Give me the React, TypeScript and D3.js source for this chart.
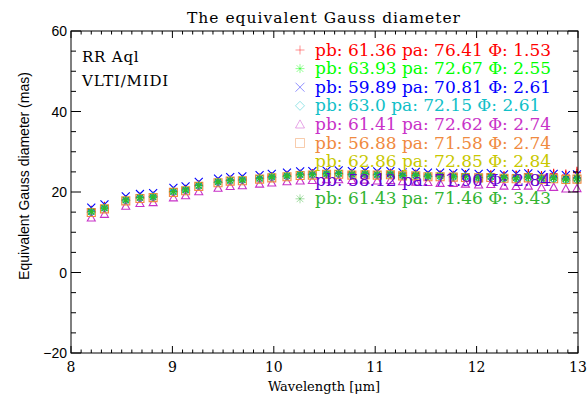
import React from "react";
import * as d3 from "d3";

const W = 588;
const H = 395;

const titleText = "The equivalent Gauss diameter";
const xTitle = "Wavelength [\u03BCm]";
const yTitle = "Equivalent Gauss diameter (mas)";
const annot = ["RR Aql", "VLTI/MIDI"];

const xMajor = [8, 9, 10, 11, 12, 13];
const yMajor = [-20, 0, 20, 40, 60];

const wavelengths = [8.20, 8.33, 8.54, 8.68, 8.81, 9.01, 9.13, 9.26, 9.45, 9.57, 9.69, 9.86, 9.98, 10.13, 10.26, 10.38, 10.52, 10.64, 10.77, 10.90, 11.02, 11.15, 11.27, 11.40, 11.52, 11.64, 11.77, 11.89, 12.02, 12.14, 12.27, 12.39, 12.51, 12.64, 12.76, 12.88, 12.99];

const sRed = [15.6, 16.6, 18.2, 18.9, 19.1, 20.3, 20.8, 21.9, 22.7, 23.1, 23.3, 23.6, 24.0, 24.3, 24.6, 24.7, 24.9, 24.8, 24.8, 24.9, 24.6, 24.8, 24.5, 24.6, 24.3, 24.4, 24.3, 24.5, 24.0, 24.4, 24.1, 24.3, 24.6, 24.0, 24.5, 24.2, 24.8];
const sGreen = [15.1, 16.0, 18.0, 18.6, 18.8, 20.1, 20.5, 21.6, 22.5, 22.9, 23.0, 23.4, 23.7, 24.0, 24.3, 24.4, 24.6, 24.6, 24.5, 24.6, 24.4, 24.5, 24.3, 24.2, 24.1, 24.0, 24.0, 23.9, 23.8, 23.9, 23.7, 23.6, 23.8, 23.5, 23.6, 23.4, 23.5];
const sBlue = [16.1, 16.9, 18.9, 19.5, 19.7, 21.0, 21.4, 22.5, 23.3, 23.7, 23.9, 24.2, 24.5, 24.8, 25.1, 25.2, 25.3, 25.4, 25.2, 25.3, 25.1, 25.2, 24.9, 25.0, 24.8, 24.8, 24.7, 24.8, 24.5, 24.7, 24.4, 24.5, 24.6, 24.3, 24.5, 24.2, 24.4];
const sCyan = [15.0, 16.0, 17.9, 18.5, 18.8, 20.0, 20.4, 21.5, 22.4, 22.8, 23.0, 23.3, 23.6, 23.9, 24.2, 24.3, 24.5, 24.5, 24.3, 24.4, 24.2, 24.3, 24.1, 24.0, 23.9, 23.8, 23.7, 23.7, 23.5, 23.6, 23.3, 23.3, 23.4, 23.1, 23.2, 22.9, 23.0];
const sMagenta = [13.6, 14.5, 16.5, 17.2, 17.4, 18.6, 19.1, 20.1, 21.0, 21.4, 21.6, 22.0, 22.3, 22.6, 22.8, 22.9, 23.1, 23.1, 22.9, 23.0, 22.8, 22.9, 22.6, 22.5, 22.4, 22.2, 22.2, 22.0, 21.8, 21.9, 21.5, 21.4, 21.5, 21.1, 21.2, 20.8, 20.9];
const sOrange = [14.9, 15.8, 17.8, 18.4, 18.6, 19.9, 20.3, 21.4, 22.3, 22.7, 22.8, 23.2, 23.5, 23.8, 24.1, 24.2, 24.4, 24.4, 24.2, 24.3, 24.2, 24.3, 24.0, 24.0, 23.8, 23.8, 23.7, 23.6, 23.5, 23.6, 23.4, 23.3, 23.5, 23.2, 23.3, 23.1, 23.2];
const sYellow = [15.2, 16.1, 18.0, 18.7, 18.9, 20.2, 20.6, 21.7, 22.5, 22.9, 23.1, 23.4, 23.8, 24.1, 24.3, 24.5, 24.6, 24.7, 24.5, 24.6, 24.4, 24.5, 24.2, 24.3, 24.0, 24.1, 23.9, 23.6, 23.7, 23.9, 23.5, 23.4, 23.8, 23.3, 23.6, 23.2, 23.4];
const sPurple = [15.0, 15.9, 17.9, 18.5, 18.7, 20.0, 20.4, 21.5, 22.4, 22.8, 22.9, 23.3, 23.6, 23.9, 24.2, 24.3, 24.5, 24.5, 24.3, 24.4, 24.2, 24.3, 24.1, 24.1, 23.9, 23.9, 23.8, 23.7, 23.5, 23.7, 23.4, 23.4, 23.5, 23.2, 23.4, 23.1, 23.2];
const sDkGreen = [15.1, 16.0, 18.0, 18.6, 18.7, 20.1, 20.5, 21.6, 22.5, 22.9, 23.0, 23.4, 23.8, 24.0, 24.3, 24.4, 24.5, 24.6, 24.4, 24.5, 24.3, 24.4, 24.1, 24.2, 23.9, 24.0, 23.8, 23.9, 23.6, 23.8, 23.5, 23.5, 23.7, 23.3, 23.5, 23.2, 23.4];

const errRed = [0.2, 0.2, 0.2, 0.2, 0.2, 0.2, 0.2, 0.2, 0.2, 0.3, 0.3, 0.3, 0.3, 0.3, 0.3, 0.3, 0.4, 0.4, 0.4, 0.4, 0.5, 0.5, 0.5, 0.6, 0.6, 0.7, 0.7, 0.8, 0.8, 0.9, 1.0, 1.0, 1.1, 1.2, 1.3, 1.4, 1.5];
const errYellow = [0.2, 0.2, 0.2, 0.2, 0.2, 0.2, 0.2, 0.2, 0.3, 0.3, 0.3, 0.3, 0.3, 0.3, 0.4, 0.4, 0.4, 0.4, 0.5, 0.5, 0.5, 0.6, 0.6, 0.7, 0.7, 0.8, 0.9, 1.0, 1.0, 1.1, 1.1, 1.2, 1.2, 1.3, 1.3, 1.4, 1.4];
const errDkGreen = [0.2, 0.2, 0.2, 0.2, 0.2, 0.2, 0.2, 0.2, 0.2, 0.2, 0.3, 0.3, 0.3, 0.3, 0.3, 0.3, 0.3, 0.4, 0.4, 0.4, 0.4, 0.5, 0.5, 0.5, 0.6, 0.6, 0.7, 0.7, 0.8, 0.8, 0.9, 0.9, 1.0, 1.0, 1.1, 1.1, 1.2];

const legendLabels = [
  "pb: 61.36 pa: 76.41 \u03A6: 1.53",
  "pb: 63.93 pa: 72.67 \u03A6: 2.55",
  "pb: 59.89 pa: 70.81 \u03A6: 2.61",
  "pb: 63.0 pa: 72.15 \u03A6: 2.61",
  "pb: 61.41 pa: 72.62 \u03A6: 2.74",
  "pb: 56.88 pa: 71.58 \u03A6: 2.74",
  "pb: 62.86 pa: 72.85 \u03A6: 2.84",
  "pb: 58.12 pa: 71.90 \u03A6: 2.84",
  "pb: 61.43 pa: 71.46 \u03A6: 3.43",
];
const colors = ["#ff0000", "#00ff00", "#0000ff", "#10c0c8", "#c832c8", "#f08a40", "#c8c800", "#6400d2", "#32b432"];
const symbols = ["plus", "star", "x", "diamond", "triangle", "square", "none", "none", "star"];
const seriesValues = [sRed, sGreen, sBlue, sCyan, sMagenta, sOrange, sYellow, sPurple, sDkGreen];
const seriesErrors: (number[] | null)[] = [errRed, null, null, null, null, null, errYellow, null, errDkGreen];

function symbolPath(kind: string, cx: number, cy: number, r: number): string {
  const p = d3.path();
  if (kind === "plus" || kind === "star") {
    p.moveTo(cx - r, cy); p.lineTo(cx + r, cy);
    p.moveTo(cx, cy - r); p.lineTo(cx, cy + r);
  }
  if (kind === "x" || kind === "star") {
    const q = kind === "star" ? r * 0.75 : r;
    p.moveTo(cx - q, cy - q); p.lineTo(cx + q, cy + q);
    p.moveTo(cx - q, cy + q); p.lineTo(cx + q, cy - q);
  }
  if (kind === "diamond") {
    p.moveTo(cx, cy - r); p.lineTo(cx + r, cy); p.lineTo(cx, cy + r); p.lineTo(cx - r, cy); p.closePath();
  }
  if (kind === "triangle") {
    p.moveTo(cx - r, cy + r * 0.8); p.lineTo(cx + r, cy + r * 0.8); p.lineTo(cx, cy - r); p.closePath();
  }
  if (kind === "square") {
    p.rect(cx - r, cy - r, 2 * r, 2 * r);
  }
  if (kind === "none") {
    p.moveTo(cx - 0.5, cy); p.lineTo(cx + 0.5, cy);
  }
  return p.toString();
}

export default function App() {
  const x = d3.scaleLinear().domain([8, 13]).range([71, 578]);
  const y = d3.scaleLinear().domain([-20, 60]).range([353, 31]);
  const [x0, x1] = x.range();
  const [y0, y1] = y.range();

  const xMinor = d3.range(80, 131).map((v) => v / 10);
  const yMinor = d3.range(-20, 61, 5);

  const serif = "'DejaVu Serif', serif";
  const sans = "'Liberation Sans', Arial, sans-serif";

  return (
    <svg width={W} height={H} style={{ position: "absolute", left: 0, top: 0, background: "#fff" }}>
      {/* data */}
      <g>
        {seriesValues.map((vals, si) => (
          <g key={si} stroke={colors[si]} fill="none" strokeWidth={1.1}>
            {seriesErrors[si] &&
              vals.map((v, i) => (
                <line key={"e" + i} x1={x(wavelengths[i])} x2={x(wavelengths[i])} y1={y(v - (seriesErrors[si] as number[])[i])} y2={y(v + (seriesErrors[si] as number[])[i])} />
              ))}
            {vals.map((v, i) => (
              <path key={i} d={symbolPath(symbols[si], x(wavelengths[i]), y(v), 4)} />
            ))}
          </g>
        ))}
      </g>

      {/* frame */}
      <rect x={x0} y={y1} width={x1 - x0} height={y0 - y1} fill="none" stroke="#000" strokeWidth={1} />
      {xMinor.map((v, i) => {
        const major = Math.abs(v - Math.round(v)) < 1e-6;
        const len = major ? 7 : 3.5;
        return (
          <g key={"xt" + i} stroke="#000" strokeWidth={1}>
            <line x1={x(v)} x2={x(v)} y1={y0} y2={y0 - len} />
            <line x1={x(v)} x2={x(v)} y1={y1} y2={y1 + len} />
          </g>
        );
      })}
      {yMinor.map((v, i) => {
        const major = v % 20 === 0;
        const len = major ? 10 : 5;
        return (
          <g key={"yt" + i} stroke="#000" strokeWidth={1}>
            <line x1={x0} x2={x0 + len} y1={y(v)} y2={y(v)} />
            <line x1={x1} x2={x1 - len} y1={y(v)} y2={y(v)} />
          </g>
        );
      })}

      {/* tick labels */}
      {xMajor.map((v) => (
        <text key={"xl" + v} x={x(v)} y={372} textAnchor="middle" fontFamily={serif} fontSize={14} fill="#000">
          {v}
        </text>
      ))}
      {yMajor.map((v) => (
        <text key={"yl" + v} x={67} y={y(v) + 5} textAnchor="end" fontFamily={sans} fontSize={14} fill="#000">
          {v < 0 ? "\u2212" + Math.abs(v) : v}
        </text>
      ))}

      {/* titles */}
      <text x={324} y={23} textAnchor="middle" fontFamily={serif} fontSize={15.5} letterSpacing={1} fill="#000">
        {titleText}
      </text>
      <text x={324} y={391} textAnchor="middle" fontFamily={serif} fontSize={13} fill="#000">
        {xTitle}
      </text>
      <text transform={`translate(29,176) rotate(-90)`} textAnchor="middle" fontFamily={sans} fontSize={14} fill="#000">
        {yTitle}
      </text>

      {annot.map((t, i) => (
        <text key={t} x={82} y={62 + i * 24} fontFamily={serif} fontSize={15} letterSpacing={0.8} fill="#000">
          {t}
        </text>
      ))}

      {/* legend */}
      {legendLabels.map((t, i) => {
        const cy = 50 + i * 18.6;
        return (
          <g key={"lg" + i}>
            {symbols[i] !== "none" && (
              <path d={symbolPath(symbols[i], 300, cy, 4.5)} stroke={colors[i]} strokeWidth={0.8} fill="none" opacity={0.55} />
            )}
            <text x={315} y={cy + 5.5} fontFamily={serif} fontSize={17} fill={colors[i]}>
              {t}
            </text>
          </g>
        );
      })}
    </svg>
  );
}
